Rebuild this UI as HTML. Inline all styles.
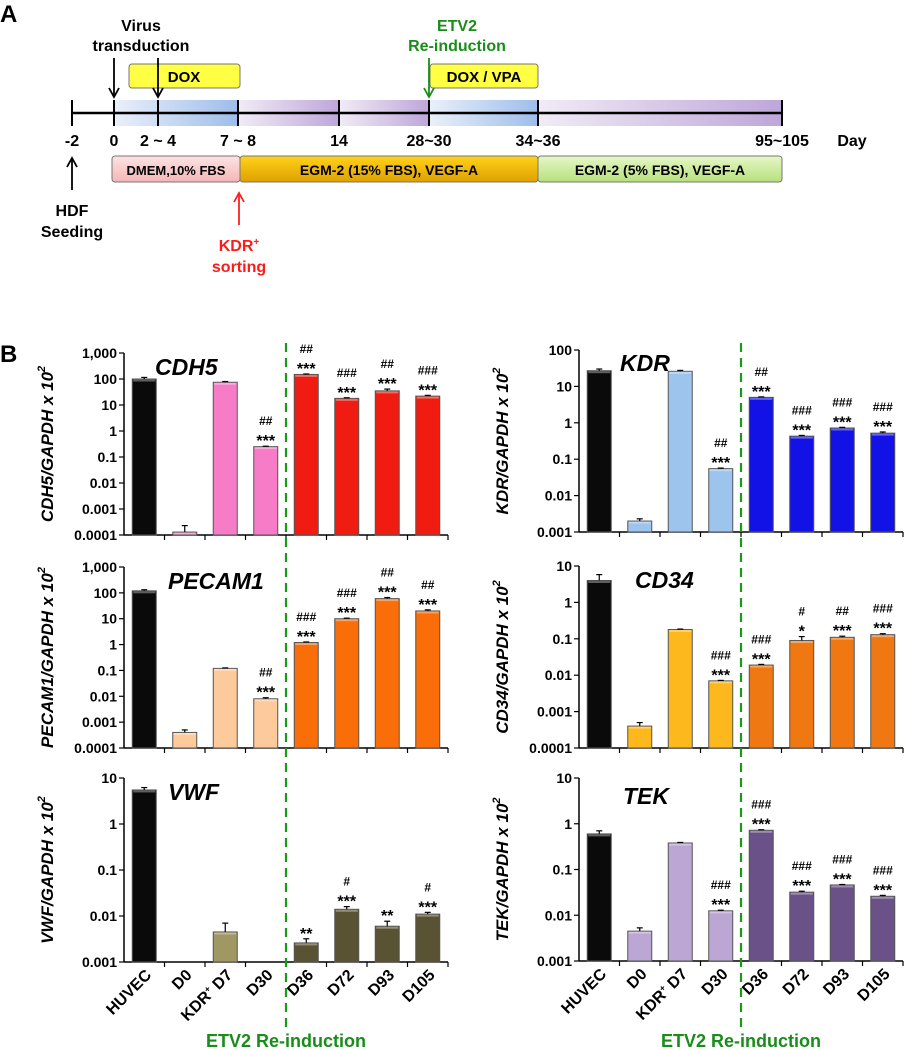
<!DOCTYPE html>
<html><head><meta charset="utf-8"><style>
html,body{margin:0;padding:0;background:#fff;}
svg{display:block;font-family:"Liberation Sans",Arial,sans-serif;font-weight:bold;}
</style></head><body>
<svg id="fig" width="905" height="1050" viewBox="0 0 905 1050" xmlns="http://www.w3.org/2000/svg">
<defs>
<linearGradient id="gBlue" x1="0" x2="1" y1="0" y2="0"><stop offset="0" stop-color="#eaf0fa"/><stop offset="1" stop-color="#9ebdeb"/></linearGradient>
<linearGradient id="gPurp" x1="0" x2="1" y1="0" y2="0"><stop offset="0" stop-color="#f1ecf6"/><stop offset="1" stop-color="#bea6d9"/></linearGradient>
<linearGradient id="gPink" x1="0" x2="0" y1="0" y2="1"><stop offset="0" stop-color="#fde3e3"/><stop offset="1" stop-color="#f4b6b6"/></linearGradient>
<linearGradient id="gOrg" x1="0" x2="0" y1="0" y2="1"><stop offset="0" stop-color="#ffd21a"/><stop offset="1" stop-color="#e0a000"/></linearGradient>
<linearGradient id="gGrn" x1="0" x2="0" y1="0" y2="1"><stop offset="0" stop-color="#e6f7c6"/><stop offset="1" stop-color="#b7e07c"/></linearGradient>
</defs>
<g>
<text x="0" y="22" font-size="24">A</text>
<rect x="114" y="100" width="124" height="26" fill="url(#gBlue)"/>
<rect x="238" y="100" width="101" height="26" fill="url(#gPurp)"/>
<rect x="339" y="100" width="90" height="26" fill="url(#gPurp)"/>
<rect x="429" y="100" width="109" height="26" fill="url(#gBlue)"/>
<rect x="538" y="100" width="244" height="26" fill="url(#gPurp)"/>
<line x1="72" y1="113" x2="782" y2="113" stroke="#000" stroke-width="2.5"/>
<g stroke="#000" stroke-width="2">
<line x1="72" y1="100" x2="72" y2="126"/><line x1="114" y1="100" x2="114" y2="126"/><line x1="158" y1="100" x2="158" y2="126"/><line x1="238" y1="100" x2="238" y2="126"/><line x1="339" y1="100" x2="339" y2="126"/><line x1="429" y1="100" x2="429" y2="126"/><line x1="538" y1="100" x2="538" y2="126"/><line x1="782" y1="100" x2="782" y2="126"/>
</g>
<g font-size="16" text-anchor="middle">
<text x="72" y="146">-2</text><text x="114" y="146">0</text><text x="158" y="146">2 ~ 4</text><text x="238" y="146">7 ~ 8</text><text x="339" y="146">14</text><text x="429" y="146">28~30</text><text x="538" y="146">34~36</text><text x="782" y="146">95~105</text><text x="852" y="146">Day</text>
</g>
<rect x="129" y="64" width="111" height="24" rx="3" fill="#ffff44" stroke="#777"/>
<text x="184" y="82" font-size="15" text-anchor="middle">DOX</text>
<rect x="430" y="64" width="108" height="24" rx="3" fill="#ffff44" stroke="#777"/>
<text x="484" y="82" font-size="15" text-anchor="middle">DOX / VPA</text>
<g stroke="#000" stroke-width="1.8" fill="none">
<line x1="114" y1="58" x2="114" y2="97"/><polyline points="109,88 114,97 119,88"/>
<line x1="158" y1="58" x2="158" y2="97"/><polyline points="153,88 158,97 163,88"/>
<line x1="72" y1="190" x2="72" y2="158"/><polyline points="67,167 72,158 77,167"/>
</g>
<g stroke="#1a8c1a" stroke-width="1.8" fill="none"><line x1="429" y1="58" x2="429" y2="97"/><polyline points="424,88 429,97 434,88"/></g>
<g stroke="#ff2020" stroke-width="1.8" fill="none"><line x1="239" y1="225" x2="239" y2="193"/><polyline points="234,202 239,193 244,202"/></g>
<text x="141" y="31" font-size="16" text-anchor="middle">Virus</text>
<text x="141" y="51" font-size="16" text-anchor="middle">transduction</text>
<text x="457" y="31" font-size="16" text-anchor="middle" fill="#1a8c1a">ETV2</text>
<text x="457" y="51" font-size="16" text-anchor="middle" fill="#1a8c1a">Re-induction</text>
<text x="72" y="216" font-size="16" text-anchor="middle">HDF</text>
<text x="72" y="237" font-size="16" text-anchor="middle">Seeding</text>
<text x="239" y="251" font-size="16" text-anchor="middle" fill="#ff1a1a">KDR<tspan font-size="10" dy="-6">+</tspan></text>
<text x="239" y="272" font-size="16" text-anchor="middle" fill="#ff1a1a">sorting</text>
<rect x="112" y="156" width="128" height="26" rx="3" fill="url(#gPink)" stroke="#777"/>
<text x="176" y="175" font-size="13" text-anchor="middle">DMEM,10% FBS</text>
<rect x="240" y="156" width="298" height="26" rx="3" fill="url(#gOrg)" stroke="#777"/>
<text x="389" y="175" font-size="14" text-anchor="middle">EGM-2 (15% FBS), VEGF-A</text>
<rect x="538" y="156" width="244" height="26" rx="3" fill="url(#gGrn)" stroke="#777"/>
<text x="660" y="175" font-size="14" text-anchor="middle">EGM-2 (5% FBS), VEGF-A</text>
</g>
<text x="0" y="362" font-size="24">B</text>
<g id="charts"></g>
</svg>
<script>
const categories = ["HUVEC","D0","KDR+ D7","D30","D36","D72","D93","D105"];
const cdh5Values = [100, 0.00013, 75, 0.25, 150, 18, 35, 22];
const cdh5Err = [15, 0.0001, 5, 0.01, 6, 1, 6, 1.5];
const cdh5Sig = ["","","","##|***","##|***","###|***","##|***","###|***"];
const pecam1Values = [120, 0.0004, 0.12, 0.008, 1.2, 10, 60, 20];
const pecam1Err = [12, 0.0001, 0.005, 0.0008, 0.06, 0.5, 6, 2];
const pecam1Sig = ["","","","##|***","###|***","###|***","##|***","##|***"];
const vwfValues = [5.5, null, 0.0045, null, 0.0026, 0.014, 0.006, 0.011];
const vwfErr = [0.7, 0, 0.0025, 0, 0.0006, 0.002, 0.0017, 0.001];
const vwfSig = ["","","","","**","#|***","**","#|***"];
const kdrValues = [27, 0.002, 26, 0.055, 5, 0.43, 0.72, 0.52];
const kdrErr = [3, 0.0003, 1.5, 0.002, 0.15, 0.02, 0.03, 0.04];
const kdrSig = ["","","","##|***","##|***","###|***","###|***","###|***"];
const cd34Values = [4, 0.0004, 0.18, 0.007, 0.019, 0.09, 0.11, 0.13];
const cd34Err = [1.8, 0.0001, 0.005, 0.0002, 0.0008, 0.025, 0.008, 0.008];
const cd34Sig = ["","","","###|***","###|***","#|*","##|***","###|***"];
const tekValues = [0.6, 0.0045, 0.38, 0.0125, 0.72, 0.032, 0.046, 0.026];
const tekErr = [0.1, 0.0008, 0.01, 0.0004, 0.02, 0.0015, 0.001, 0.0012];
const tekSig = ["","","","###|***","###|***","###|***","###|***","###|***"];
const ticksBig = ["1,000","100","10","1","0.1","0.01","0.001","0.0001"];
const ticks100 = ["100","10","1","0.1","0.01","0.001"];
const ticks10a = ["10","1","0.1","0.01","0.001","0.0001"];
const ticks10b = ["10","1","0.1","0.01","0.001"];

const NS = "http://www.w3.org/2000/svg";
const root = document.getElementById("charts");
function mk(tag, attrs, parent){const e=document.createElementNS(NS,tag);for(const k in attrs)e.setAttribute(k,attrs[k]);(parent||root).appendChild(e);return e;}

const panels = [
 {gene:"CDH5", values:cdh5Values, err:cdh5Err, sig:cdh5Sig, ticks:ticksBig, maxExp:3, minExp:-4, ax:124, top:353, bot:535, pre:"#f77cc8", post:"#f01c12", gx:155, gy:375, xlab:false},
 {gene:"PECAM1", values:pecam1Values, err:pecam1Err, sig:pecam1Sig, ticks:ticksBig, maxExp:3, minExp:-4, ax:124, top:567, bot:748, pre:"#fdca9c", post:"#f96e08", gx:168, gy:589, xlab:false},
 {gene:"VWF", values:vwfValues, err:vwfErr, sig:vwfSig, ticks:ticks10b, maxExp:1, minExp:-3, ax:124, top:778, bot:962, pre:"#a09862", post:"#5a5333", gx:168, gy:800, xlab:true},
 {gene:"KDR", values:kdrValues, err:kdrErr, sig:kdrSig, ticks:ticks100, maxExp:2, minExp:-3, ax:579, top:350, bot:532, pre:"#9dc4ed", post:"#1212e6", gx:620, gy:371, xlab:false},
 {gene:"CD34", values:cd34Values, err:cd34Err, sig:cd34Sig, ticks:ticks10a, maxExp:1, minExp:-4, ax:579, top:566, bot:748, pre:"#fcb81c", post:"#ef7812", gx:635, gy:588, xlab:false},
 {gene:"TEK", values:tekValues, err:tekErr, sig:tekSig, ticks:ticks10b, maxExp:1, minExp:-3, ax:579, top:778, bot:961, pre:"#bca7d4", post:"#6a5289", gx:623, gy:804, xlab:true}
];
const step = 40.5, bw = 24;

panels.forEach(p=>{
  const g = mk("g",{});
  
  
  const y = v => p.bot - (Math.log10(v) - p.minExp) / (p.maxExp - p.minExp) * (p.bot - p.top);
  const xc = i => p.ax + step*(i+0.5);
  const xEnd = p.ax + step*categories.length;
  const ya = mk("line",{x1:p.ax,y1:p.top,x2:p.ax,y2:p.bot,stroke:"#000","stroke-width":1.5},g);
  
  
  const xa = mk("line",{x1:p.ax,y1:p.bot,x2:xEnd,y2:p.bot,stroke:"#000","stroke-width":1.5},g);
  
  
  for(let i=1;i<=categories.length;i++){
    mk("line",{x1:p.ax+step*i,y1:p.bot,x2:p.ax+step*i,y2:p.bot+5,stroke:"#000","stroke-width":1.2},g);
  }
  p.ticks.forEach((t,k)=>{
    const ty = p.top + k*(p.bot-p.top)/(p.ticks.length-1);
    mk("line",{x1:p.ax-5,y1:ty,x2:p.ax,y2:ty,stroke:"#000","stroke-width":1.2},g);
    const tl = mk("text",{x:p.ax-7,y:ty+5,"font-size":14,"text-anchor":"end"},g);
    tl.textContent = t;
    
    
  });
  const cy = (p.top+p.bot)/2;
  const yt = mk("text",{x:0,y:0,"font-size":17,"font-style":"italic","text-anchor":"middle",transform:`translate(${p.ax-71},${cy}) rotate(-90)`},g);
  yt.textContent = p.gene + "/GAPDH x 10";
  const sup = mk("tspan",{"font-size":11,dy:-8},yt); sup.textContent="2";
  
  
  const gl = mk("text",{x:p.gx,y:p.gy,"font-size":23,"font-style":"italic"},g);
  gl.textContent = p.gene;
  
  
  p.values.forEach((v,i)=>{
    if(v===null) return;
    const top = y(v);
    const col = i===0 ? "#0a0a0a" : (i<4 ? p.pre : p.post);
    const b = mk("rect",{x:xc(i)-bw/2,y:top,width:bw,height:p.bot-top,fill:col,stroke:"#555","stroke-width":1},g);
    
    
    mk("rect",{x:xc(i)-bw/2+1,y:top+0.5,width:bw-2,height:2,fill:"#fff",opacity:0.35},g);
    const ey = y(v + p.err[i]);
    mk("line",{x1:xc(i),y1:top,x2:xc(i),y2:ey,stroke:"#000","stroke-width":1.2},g);
    mk("line",{x1:xc(i)-3,y1:ey,x2:xc(i)+3,y2:ey,stroke:"#000","stroke-width":1.2},g);
    const s = p.sig[i];
    if(s){
      const parts = s.split("|");
      let base = ey - 6;
      for(let k=parts.length-1;k>=0;k--){
        const star = parts[k].indexOf("*")>=0;
        const st = mk("text",{x:xc(i),y:base+(star?6:0),"font-size":star?16:12,"text-anchor":"middle"},g);
        st.textContent = parts[k];
        
        
        base -= 15;
      }
    }
  });
  if(p.xlab){
    categories.forEach((c,i)=>{
      const t = mk("text",{x:0,y:0,"font-size":16,"text-anchor":"end",transform:`translate(${xc(i)+8},${p.bot+14}) rotate(-45)`},g);
      if(c.indexOf("+")>=0){ t.textContent="KDR"; const sp=mk("tspan",{"font-size":9,dy:-6},t); sp.textContent="+"; const r=mk("tspan",{dy:6},t); r.textContent=" D7"; }
      else t.textContent = c;
      
      
    });
    const et = mk("text",{x:p.ax+step*4,y:1047,"font-size":18,"text-anchor":"middle",fill:"#1a8c1a"},g);
    et.textContent = "ETV2 Re-induction";
    
    
  }
});
[124,579].forEach(ax=>{
  const d = mk("line",{x1:ax+step*4,y1:343,x2:ax+step*4,y2:1028,stroke:"#1a9a1a","stroke-width":2.2,"stroke-dasharray":"9,6"});
  
  
});
</script>
</body></html>
